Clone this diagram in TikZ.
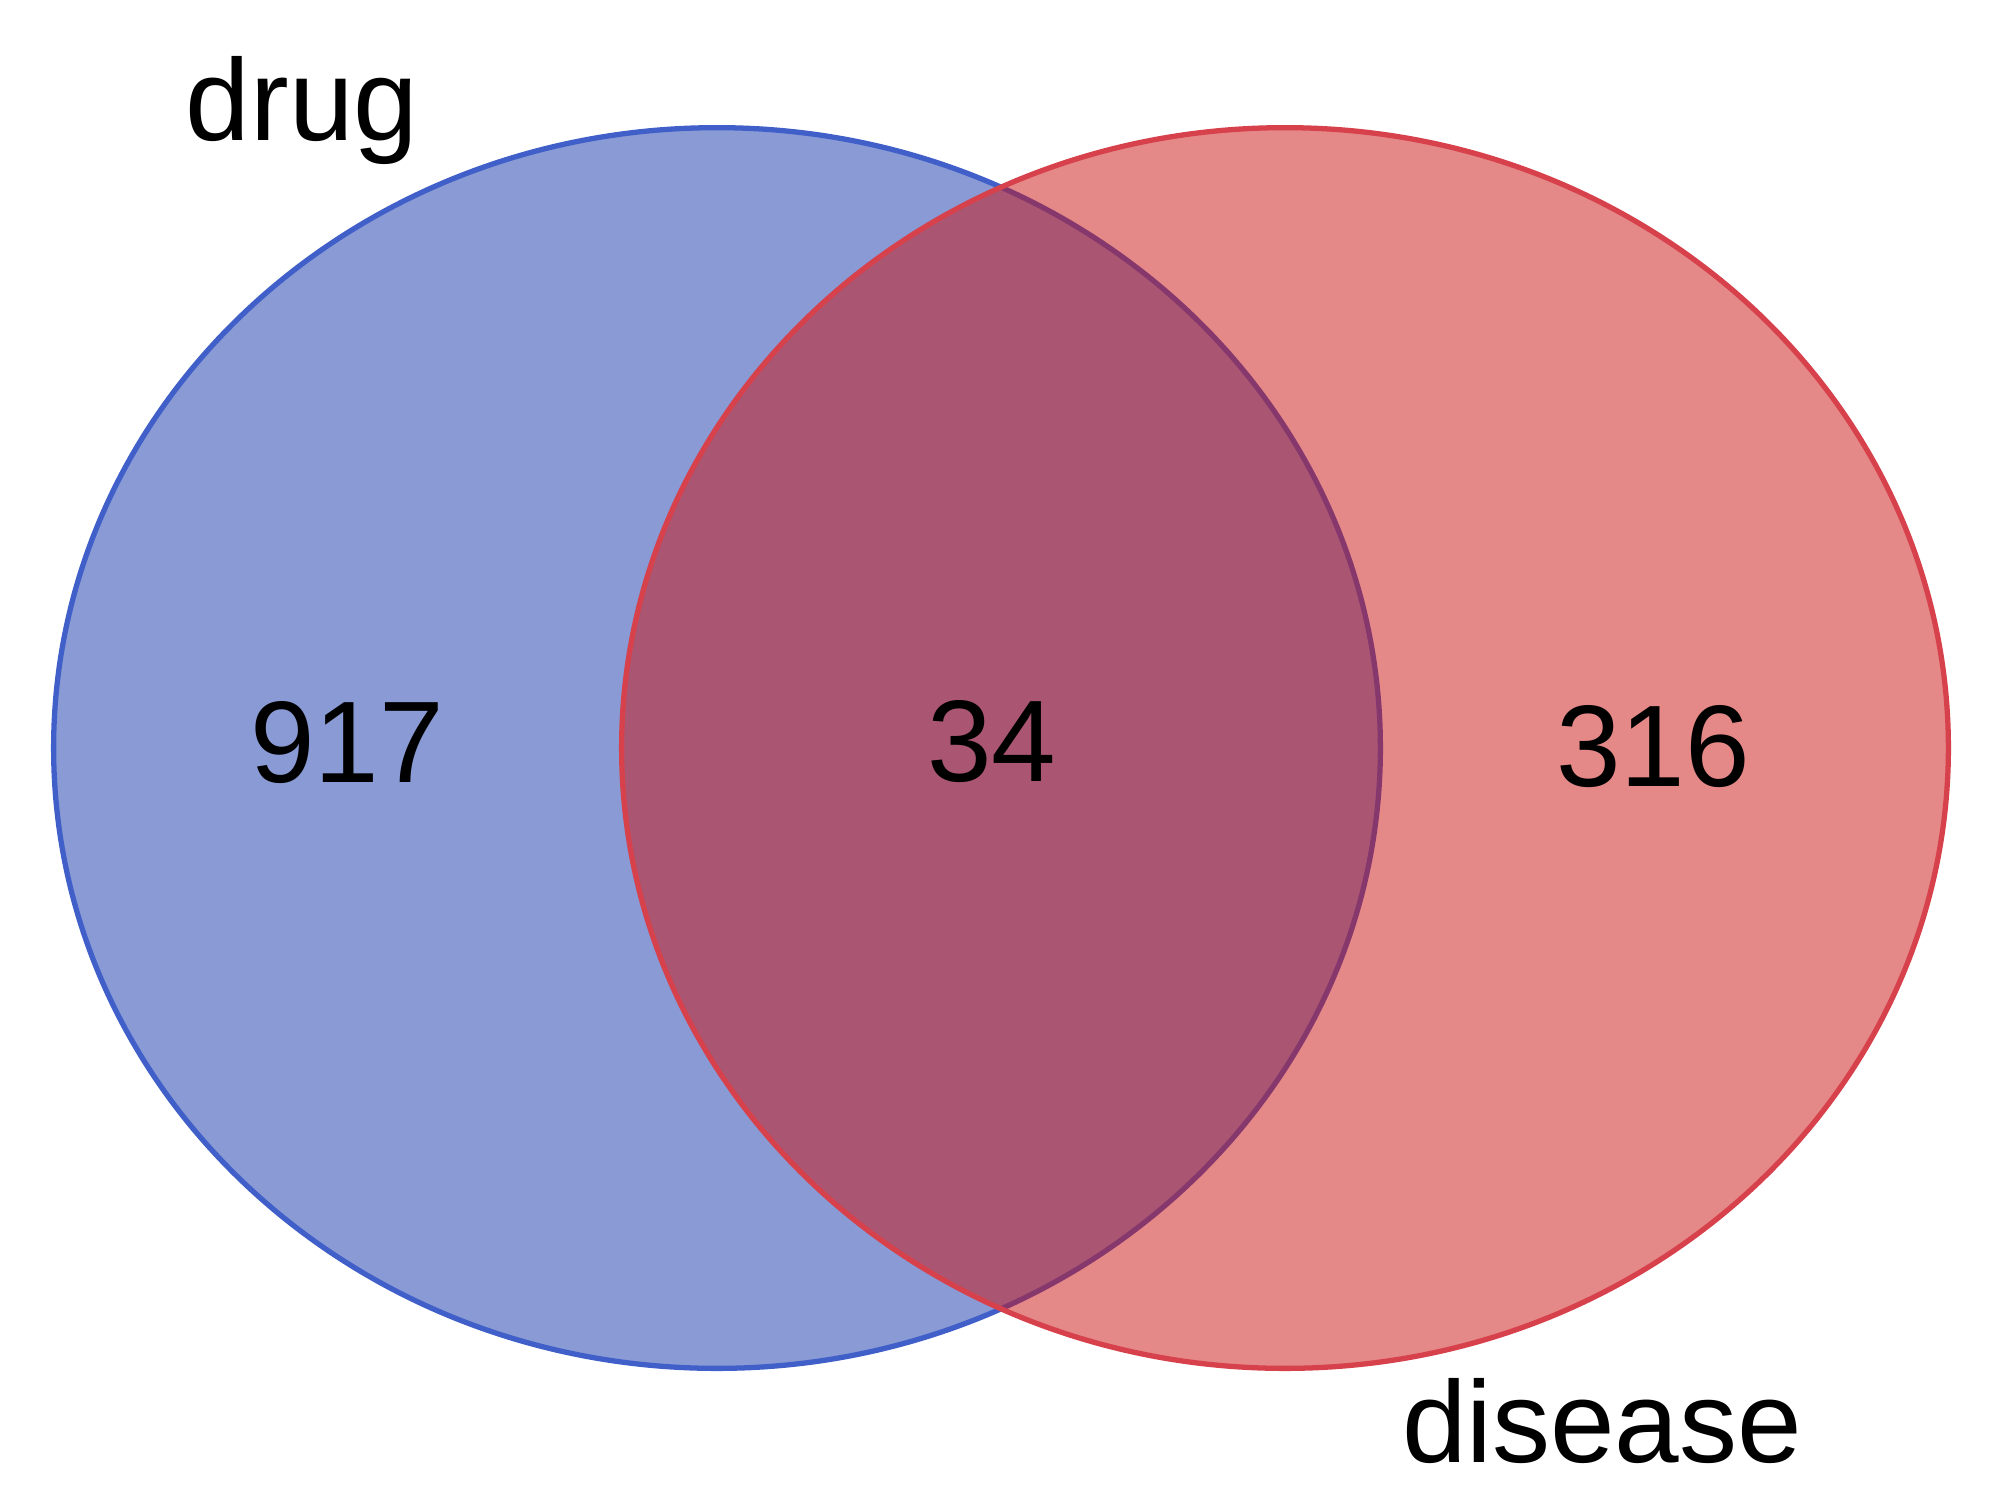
\documentclass[tikz,border=0pt]{standalone}
\usepackage{fontspec}
\setmainfont{Liberation Sans}
\usetikzlibrary{shapes.geometric}
\definecolor{blueset}{RGB}{20,55,171}
\definecolor{redset}{RGB}{203,19,19}
\definecolor{bluestroke}{RGB}{65,95,200}
\definecolor{redstroke}{RGB}{215,65,75}
\tikzset{
  setshape/.style={ellipse, minimum width=13.26cm, minimum height=12.40cm, inner sep=0pt, line width=1.5pt, fill opacity=0.5},
  lbl/.style={anchor=base, inner sep=0pt, font=\fontsize{33}{40}\selectfont}
}
\begin{document}
\begin{tikzpicture}[x=0.01cm,y=-0.01cm]
\useasboundingbox[fill=white] (0,0) rectangle (2000,1511);
\node[setshape, draw=bluestroke, fill=blueset] (drugset) at (717,748) {};
\node[setshape, draw=redstroke, fill=redset] (diseaseset) at (1285,748) {};
\node[lbl] (drug) at (302,140) {drug};
\node[lbl] (disease) at (1602,1462) {disease};
\node[lbl] (n917) at (347,782) {917};
\node[lbl] (n34) at (992,781) {34};
\node[lbl] (n316) at (1653,786) {316};
\end{tikzpicture}
\end{document}
